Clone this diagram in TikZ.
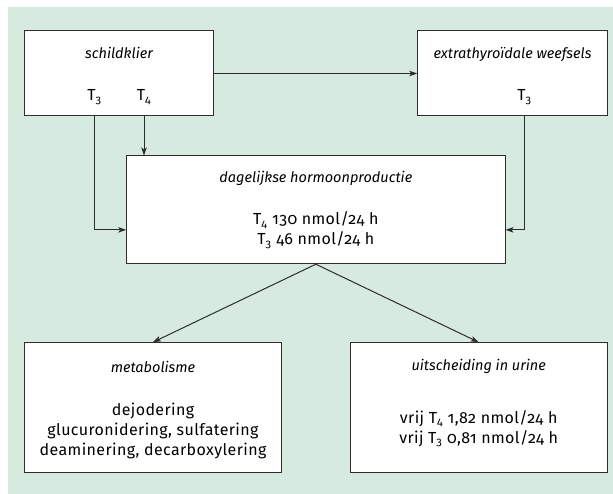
\documentclass[tikz,border=0pt]{standalone}
\usepackage{fontspec}
\setmainfont{Fira Sans}[Numbers=OldStyle]
\usepackage{tikz}
\usetikzlibrary{positioning, arrows, arrows.meta}
\definecolor{bggreen}{RGB}{214,234,223}
\definecolor{linegray}{RGB}{45,45,45}
\tikzset{
->, % all connectors are directed
>={Stealth[length=8pt, width=5.5pt, inset=2pt]}, % arrow heads
box/.style={draw=linegray, line width=1pt, fill=white, inner sep=0pt}, % the white boxes
lbl/.style={font=\fontsize{16}{20}\selectfont\addfontfeature{LetterSpace=2.5}, text=black, align=center, inner sep=0pt}, % texts in the boxes
ttl/.style={font=\fontsize{14.5}{18}\selectfont\itshape, text=black, align=center, inner sep=0pt}, % titles of the boxes
}

\begin{document}
\begin{tikzpicture}[x=1pt, y=-1pt, line width=1pt, draw=linegray]
\useasboundingbox (0,0) rectangle (613,494);
\fill[bggreen] (8,7) rectangle (613,494);
% boxes
\node[box, minimum width=189.4pt, minimum height=85pt] (schild) at (119,73.5) {};
\node[box, minimum width=189.6pt, minimum height=85pt] (extra) at (512.5,73.5) {};
\node[box, minimum width=378.3pt, minimum height=107.7pt] (prod) at (315.85,209.85) {};
\node[box, minimum width=257.4pt, minimum height=130pt] (metab) at (153,407.7) {};
\node[box, minimum width=257.3pt, minimum height=130pt] (urine) at (478.65,407.7) {};
% texts
\node[ttl] (schildt) at (119,53) {schildklier};
\node[lbl] (t3a) at (94.5,97) {T\textsubscript{3}};
\node[lbl] (t4) at (144,97) {T\textsubscript{4}};
\node[ttl] (extrat) at (512.5,54) {extrathyroïdale weefsels};
\node[lbl] (t3b) at (524.5,97) {T\textsubscript{3}};
\node[ttl] (prodt) at (315.85,178) {dagelijkse hormoonproductie};
\node[lbl] (prodv) at (315.85,230) {T\textsubscript{4} 130 nmol/24 h\\T\textsubscript{3} 46 nmol/24 h};
\node[ttl] (metabt) at (153,366.7) {metabolisme};
\node[lbl] (metabv) at (153,431) {dejodering\\glucuronidering, sulfatering\\deaminering, decarboxylering};
\node[ttl] (urinet) at (478.65,366.7) {uitscheiding in urine};
\node[lbl] (urinev) at (478.65,428.5) {vrij T\textsubscript{4} 1,82 nmol/24 h\\vrij T\textsubscript{3} 0,81 nmol/24 h};
% connectors
\draw (schild) -- (extra);
\draw (t4 |- schild.south) -- (t4 |- prod.north);
\draw (t3a |- schild.south) |- ([yshift=-20pt]prod.west);
\draw (t3b |- extra.south) |- ([yshift=-20pt]prod.east);
\draw (prod.south) -- (metab.north);
\draw (prod.south) -- (urine.north);
\end{tikzpicture}
\end{document}
